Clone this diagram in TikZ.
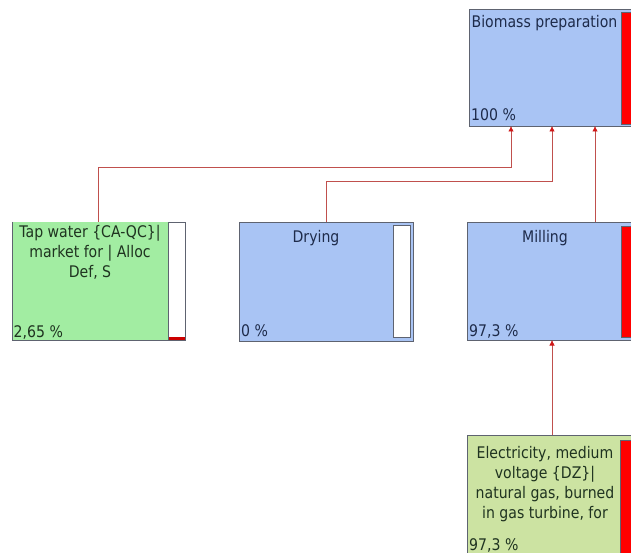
\documentclass[tikz,border=0pt]{standalone}
\usepackage{fontspec}
\setmainfont{DejaVu Sans}[FakeStretch=0.88]
\usetikzlibrary{arrows.meta}
\definecolor{boxblue}{HTML}{A9C4F4}
\definecolor{boxgreen}{HTML}{A2EDA2}
\definecolor{boxolive}{HTML}{CCE3A2}
\definecolor{edgegray}{HTML}{5E6370}
\definecolor{linkred}{HTML}{C0504D}
\definecolor{tipred}{HTML}{D01818}
\definecolor{barred}{HTML}{FF0000}
\definecolor{txtblue}{HTML}{1E2B4A}
\definecolor{txtgreen}{HTML}{1F3320}
\begin{document}
\begin{tikzpicture}[x=1pt,y=-1pt,
  procbox/.style={draw=edgegray, line width=0.8pt, inner sep=0pt, outer sep=0pt, anchor=north west},
  barbox/.style={draw=edgegray, line width=0.8pt, inner sep=0pt, outer sep=0pt, anchor=north west},
  ttl/.style={font=\fontsize{16}{20}\selectfont, align=center, inner sep=0pt, anchor=north},
  pct/.style={font=\fontsize{16}{20}\selectfont, inner sep=0pt, anchor=base west},
  flow/.style={draw=linkred, line width=0.7pt, -{Latex[length=5.5pt,width=5.5pt,color=tipred]}}]
\useasboundingbox (0,0) rectangle (631,553);
\clip (0,0) rectangle (631,553);
\fill[white] (0,0) rectangle (631,553);

% Biomass preparation
\node[procbox, fill=boxblue, minimum width=180pt, minimum height=117pt] (bio) at (469,9) {};
\node[barbox, fill=barred, minimum width=30pt, minimum height=112pt] (biobar) at (621,12) {};
\node[ttl, text=txtblue] (biot) at (544.5,15) {Biomass preparation};
\node[pct, text=txtblue] (biop) at (471,121) {100 \%};

% Tap water
\fill[boxgreen] (12,222) rectangle (168,340);
\node[inner sep=0pt, outer sep=0pt, anchor=north west, minimum width=173pt, minimum height=118pt] (tap) at (12,222) {};
\draw[edgegray, line width=0.8pt] (12,222) -- (12,340) -- (168,340);
\node[barbox, fill=white, minimum width=17pt, minimum height=118pt] (tapbar) at (168,222) {};
\fill[barred!80!black] (168.5,337) rectangle (184.5,339.6);
\node[ttl, text=txtgreen] (tapt) at (90,225) {Tap water \{CA-QC\}|\\market for | Alloc\\Def, S};
\node[pct, text=txtgreen, fill=boxgreen, inner sep=0.5pt] (tapp) at (13,337) {2,65 \%};

% Drying
\node[procbox, fill=boxblue, minimum width=174pt, minimum height=119pt] (dry) at (239,222) {};
\node[barbox, fill=white, minimum width=17pt, minimum height=112pt] (drybar) at (393,225) {};
\node[ttl, text=txtblue] (dryt) at (316,230) {Drying};
\node[pct, text=txtblue] (dryp) at (241,336) {0 \%};

% Milling
\node[procbox, fill=boxblue, minimum width=180pt, minimum height=118pt] (mill) at (467,222) {};
\node[barbox, fill=barred, minimum width=30pt, minimum height=111pt] (millbar) at (621,226) {};
\node[ttl, text=txtblue] (millt) at (545,230) {Milling};
\node[pct, text=txtblue] (millp) at (469,336) {97,3 \%};

% Electricity
\node[procbox, fill=boxolive, minimum width=180pt, minimum height=140pt] (elec) at (467,435) {};
\node[barbox, fill=barred, minimum width=30pt, minimum height=130pt] (elecbar) at (620,440) {};
\node[ttl, text=txtgreen] (elect) at (545,446) {Electricity, medium\\voltage \{DZ\}|\\natural gas, burned\\in gas turbine, for};
\node[pct, text=txtgreen] (elecp) at (469,550) {97,3 \%};

% connectors
\draw[flow] (tap.north) -- (tap.north |- 0,167) -| ([xshift=42pt]bio.south west);
\draw[flow] (dry.north) -- (dry.north |- 0,181) -| ([xshift=83pt]bio.south west);
\draw[flow] ([xshift=128pt]mill.north west) -- ([xshift=126pt]bio.south west);
\draw[flow] ([xshift=85pt]elec.north west) -- ([xshift=85pt]mill.south west);
\end{tikzpicture}
\end{document}
